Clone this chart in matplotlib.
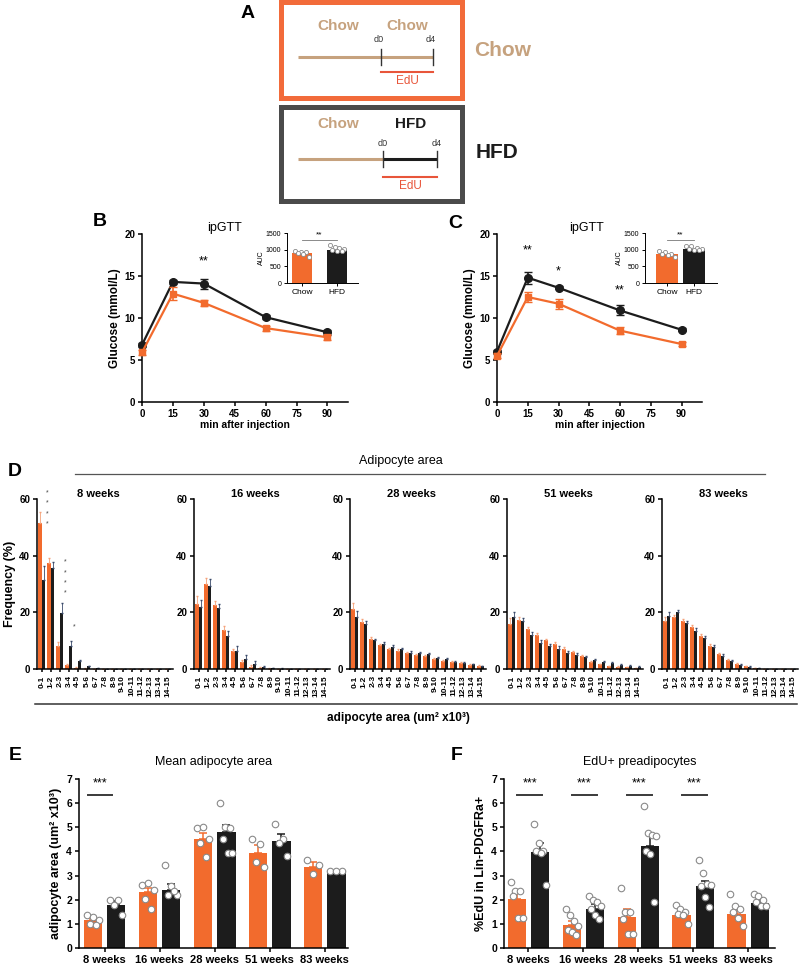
import numpy as np
import matplotlib
matplotlib.use('Agg')
import matplotlib.pyplot as plt
from matplotlib.patches import Rectangle

plt.rcParams['font.family'] = ['Liberation Sans', 'DejaVu Sans']
plt.rcParams['axes.linewidth'] = 1.1
plt.rcParams['xtick.major.width'] = 1.1
plt.rcParams['ytick.major.width'] = 1.1
plt.rcParams['xtick.major.size'] = 3
plt.rcParams['ytick.major.size'] = 3

ORANGE = '#F26B2D'
BLACK = '#1C1C1C'
TAN = '#C6A27E'
GREYBOX = '#4B4B4B'
EDU = '#E8553A'
PTEDGE = '#8A8A8A'

# ---- data: ipGTT (B, C) ----
times = [0, 15, 30, 60, 90]
b_chow = [5.9, 12.9, 11.8, 8.8, 7.7]
b_chow_err = [0.3, 0.8, 0.4, 0.3, 0.3]
b_hfd = [6.8, 14.3, 14.1, 10.1, 8.3]
b_hfd_err = [0.2, 0.2, 0.6, 0.2, 0.3]
b_stars = [(30, 16.7, '**')]
b_auc = [900, 1000]
b_auc_chow_pts = [950, 940, 930, 910, 880, 780]
b_auc_hfd_pts = [1150, 1080, 1060, 1010, 990, 960, 950]

c_chow = [5.5, 12.5, 11.7, 8.5, 6.9]
c_chow_err = [0.3, 0.6, 0.6, 0.4, 0.2]
c_hfd = [6.0, 14.8, 13.6, 10.9, 8.6]
c_hfd_err = [0.2, 0.7, 0.2, 0.6, 0.2]
c_stars = [(15, 18.1, '**'), (30, 15.6, '*'), (60, 13.3, '**')]
c_auc = [860, 1020]
c_auc_chow_pts = [950, 920, 880, 860, 830, 780]
c_auc_hfd_pts = [1100, 1100, 1040, 1020, 1010, 1000, 980]

# ---- data: adipocyte area distribution (D) ----
bins = ['0-1', '1-2', '2-3', '3-4', '4-5', '5-6', '6-7', '7-8', '8-9',
        '9-10', '10-11', '11-12', '12-13', '13-14', '14-15']
ages = ['8 weeks', '16 weeks', '28 weeks', '51 weeks', '83 weeks']
d_chow = [
    [51.5, 37.3, 8.2, 1.5, 0.4, 0.1, 0.05, 0, 0, 0, 0, 0, 0, 0, 0],
    [22.8, 30.0, 22.6, 13.6, 6.2, 2.4, 0.8, 0.35, 0.1, 0.05, 0, 0, 0, 0, 0],
    [21.2, 16.5, 10.7, 8.4, 7.0, 6.4, 5.7, 4.9, 4.5, 3.7, 2.9, 2.6, 2.0, 1.5, 1.2],
    [16.0, 17.3, 14.2, 11.9, 10.1, 9.0, 7.2, 6.0, 4.5, 2.6, 1.6, 1.0, 0.8, 0.6, 0.4],
    [16.8, 18.2, 16.8, 14.9, 11.8, 8.2, 5.3, 3.2, 1.8, 0.9, 0.3, 0.1, 0.05, 0, 0],
]
d_chow_err = [
    [4.0, 2.0, 1.5, 0.4, 0.2, 0.1, 0, 0, 0, 0, 0, 0, 0, 0, 0],
    [3.0, 2.0, 1.5, 1.5, 1.0, 0.7, 0.5, 0.3, 0.1, 0, 0, 0, 0, 0, 0],
    [2.0, 1.0, 0.5, 0.5, 0.5, 0.5, 0.4, 0.4, 0.4, 0.3, 0.3, 0.3, 0.3, 0.2, 0.2],
    [2.0, 1.0, 0.8, 0.8, 0.6, 0.6, 0.5, 0.5, 0.4, 0.4, 0.3, 0.2, 0.2, 0.2, 0.1],
    [1.5, 1.0, 0.8, 0.8, 0.6, 0.6, 0.5, 0.4, 0.3, 0.2, 0.1, 0.05, 0, 0, 0],
]
d_hfd = [
    [31.3, 35.6, 19.7, 8.0, 2.7, 0.9, 0.4, 0.1, 0, 0, 0, 0, 0, 0, 0],
    [21.8, 29.4, 21.5, 11.8, 6.5, 3.5, 1.8, 0.8, 0.3, 0.1, 0, 0, 0, 0, 0],
    [18.5, 15.9, 10.1, 9.0, 7.8, 6.9, 5.7, 5.5, 5.2, 4.0, 3.4, 2.6, 2.0, 1.6, 1.0],
    [18.5, 16.9, 12.1, 9.2, 8.0, 7.2, 5.8, 4.9, 4.1, 3.1, 2.6, 2.0, 1.4, 1.2, 0.8],
    [18.8, 20.0, 16.1, 13.5, 10.9, 7.9, 4.7, 2.9, 1.4, 0.8, 0.3, 0.1, 0.05, 0, 0],
]
d_hfd_err = [
    [5.0, 2.0, 3.5, 1.8, 0.5, 0.3, 0.1, 0, 0, 0, 0, 0, 0, 0, 0],
    [2.5, 2.5, 1.5, 1.5, 1.5, 1.5, 1.0, 0.4, 0.2, 0.1, 0, 0, 0, 0, 0],
    [2.0, 1.0, 0.6, 0.6, 0.6, 0.6, 0.5, 0.5, 0.5, 0.4, 0.4, 0.3, 0.3, 0.3, 0.2],
    [1.5, 1.0, 1.0, 1.0, 0.8, 0.8, 0.6, 0.6, 0.5, 0.5, 0.4, 0.4, 0.3, 0.3, 0.2],
    [1.2, 1.0, 0.8, 0.8, 0.6, 0.6, 0.5, 0.4, 0.3, 0.2, 0.1, 0.05, 0, 0, 0],
]
d_sig_bins = [0, 2, 3]
d_sig_base = [50, 25.5, 13.5]
d_sig_n = [4, 4, 1]

# ---- data: mean adipocyte area (E) ----
weeks = ['8 weeks', '16 weeks', '28 weeks', '51 weeks', '83 weeks']
e_chow = [1.15, 2.3, 4.5, 3.95, 3.35]
e_chow_err = [0.1, 0.2, 0.25, 0.3, 0.2]
e_hfd = [1.78, 2.42, 4.8, 4.45, 3.18]
e_hfd_err = [0.15, 0.22, 0.3, 0.28, 0.03]
e_chow_pts = [[1.35, 1.3, 1.15, 1.0, 0.95], [2.6, 2.7, 2.4, 2.05, 1.6],
              [4.95, 5.0, 4.5, 4.35, 3.75], [4.5, 4.3, 3.55, 3.35],
              [3.65, 3.45, 3.05]]
e_hfd_pts = [[2.0, 2.0, 1.8, 1.35], [3.45, 2.55, 2.2, 2.2, 2.35],
             [6.0, 5.0, 4.95, 4.5, 3.95, 3.95], [5.15, 4.5, 4.35, 3.8],
             [3.2, 3.2, 3.2]]
e_sig = [0]

# ---- data: EdU+ preadipocytes (F) ----
f_chow = [2.02, 0.97, 1.3, 1.38, 1.42]
f_chow_err = [0.25, 0.15, 0.3, 0.12, 0.2]
f_hfd = [3.98, 1.62, 4.22, 2.56, 1.88]
f_hfd_err = [0.35, 0.2, 0.5, 0.2, 0.15]
f_chow_pts = [[2.75, 2.35, 2.35, 2.15, 1.25, 1.25],
              [1.6, 1.35, 1.1, 0.9, 0.75, 0.65, 0.55],
              [2.5, 1.5, 1.5, 1.2, 0.6, 0.6],
              [1.8, 1.6, 1.5, 1.4, 1.35, 1.0],
              [2.25, 1.75, 1.6, 1.5, 1.25, 0.9]]
f_hfd_pts = [[5.15, 4.35, 4.0, 4.0, 3.95, 2.6],
             [2.15, 2.0, 1.9, 1.75, 1.6, 1.35, 1.2],
             [5.9, 4.75, 4.7, 4.65, 4.0, 3.9, 1.9],
             [3.65, 3.1, 2.65, 2.6, 2.55, 2.1, 1.7],
             [2.25, 2.15, 2.0, 1.9, 1.75, 1.75]]
f_sig = [0, 1, 2, 3]

W, H = 800, 967
fig = plt.figure(figsize=(8, 9.67), dpi=100)


def px_axes(x0, x1, y0, y1):
    return fig.add_axes([x0 / W, 1 - y1 / H, (x1 - x0) / W, (y1 - y0) / H])


def clean(ax, fs=7, bold=True):
    ax.spines['top'].set_visible(False)
    ax.spines['right'].set_visible(False)
    ax.tick_params(labelsize=fs, pad=2)
    if bold:
        for t in ax.get_xticklabels() + ax.get_yticklabels():
            t.set_fontweight('bold')


def spread(n, w):
    # horizontal offsets for dots, interleaved so they don't line up diagonally
    if n == 1:
        return np.zeros(1)
    base = np.linspace(-w, w, n)
    order = np.concatenate([np.arange(0, n, 2), np.arange(1, n, 2)])
    return base[order]


# ---- B, C ----
def gtt(ax, ins, chow, chow_err, hfd, hfd_err, stars, auc, pc, ph, pos, bw, xl):
    ax.errorbar(times, hfd, yerr=hfd_err, color=BLACK, marker='o', ms=5.5,
                lw=1.6, capsize=3, elinewidth=1.2, clip_on=False, zorder=3)
    ax.errorbar(times, chow, yerr=chow_err, color=ORANGE, marker='s', ms=5,
                lw=1.6, capsize=3, elinewidth=1.2, clip_on=False, zorder=4)
    ax.set_xlim(0, 100)
    ax.set_ylim(0, 20)
    ax.set_xticks(times[:1] + [15, 30, 45, 60, 75, 90])
    ax.set_yticks([0, 5, 10, 15, 20])
    ax.set_xlabel('min after injection', fontsize=7.5, fontweight='bold', labelpad=1)
    ax.set_ylabel('Glucose (mmol/L)', fontsize=8.5, fontweight='bold', labelpad=2)
    clean(ax)
    for x, y, s in stars:
        ax.text(x, y, s, ha='center', va='center', fontsize=9)

    ins.bar(pos, auc, bw, color=[ORANGE, BLACK])
    for p, pts in zip(pos, [pc, ph]):
        ins.scatter(p + spread(len(pts), bw * 0.35), pts, s=9, facecolor='white',
                    edgecolor=PTEDGE, linewidth=0.6, zorder=3, clip_on=False)
    ins.plot([pos[0], pos[1]], [1300, 1300], color='#777777', lw=0.6)
    ins.text(np.mean(pos), 1330, '**', ha='center', va='bottom', fontsize=6)
    ins.set_xlim(*xl)
    ins.set_ylim(0, 1500)
    ins.set_yticks([0, 500, 1000, 1500])
    ins.set_xticks(pos)
    ins.set_xticklabels(['Chow', 'HFD'])
    ins.set_ylabel('AUC', fontsize=5, labelpad=1)
    for s in ['left', 'bottom']:
        ins.spines[s].set_linewidth(0.7)
    ins.tick_params(width=0.7, length=2)
    clean(ins, fs=5, bold=False)
    ins.tick_params(axis='x', labelsize=6)


axB = px_axes(142, 348, 234, 402)
inB = px_axes(287, 358, 233, 283)
gtt(axB, inB, b_chow, b_chow_err, b_hfd, b_hfd_err, b_stars, b_auc,
    b_auc_chow_pts, b_auc_hfd_pts, np.array([0, 1]), 0.57, (-0.43, 1.6))
axC = px_axes(497, 702, 234, 402)
inC = px_axes(645, 717, 233, 283)
gtt(axC, inC, c_chow, c_chow_err, c_hfd, c_hfd_err, c_stars, c_auc,
    c_auc_chow_pts, c_auc_hfd_pts, np.array([0, 1]), 0.8, (-0.81, 1.85))
fig.text(225 / W, 1 - 228 / H, 'ipGTT', ha='center', va='center', fontsize=9)
fig.text(587 / W, 1 - 228 / H, 'ipGTT', ha='center', va='center', fontsize=9)

# ---- D ----
idx = np.arange(len(bins))
d_left = [37, 194, 350, 507, 662]
for k in range(len(ages)):
    ax = px_axes(d_left[k], d_left[k] + 136, 499, 669)
    ax.bar(idx - 0.2, d_chow[k], 0.38, color=ORANGE)
    ax.bar(idx + 0.2, d_hfd[k], 0.38, color=BLACK)
    ax.errorbar(idx - 0.2, d_chow[k], yerr=[np.zeros(len(bins)), d_chow_err[k]],
                fmt='none', ecolor='#F5A27A', elinewidth=0.6, capsize=1)
    ax.errorbar(idx + 0.2, d_hfd[k], yerr=[np.zeros(len(bins)), d_hfd_err[k]],
                fmt='none', ecolor='#3A4A6A', elinewidth=0.6, capsize=1)
    ax.set_xlim(-0.55, 14.6)
    ax.set_ylim(0, 60)
    ax.set_yticks([0, 20, 40, 60])
    ax.set_xticks(idx)
    ax.set_xticklabels(bins, rotation=90)
    clean(ax)
    ax.tick_params(axis='x', labelsize=6, length=2.5)
    ax.set_title(ages[k], fontsize=8, fontweight='bold', x=0.45, y=0.98, va='center')
    if k == 0:
        ax.set_ylabel('Frequency (%)', fontsize=9, fontweight='bold', labelpad=2)
        for b, base, n in zip(d_sig_bins, d_sig_base, d_sig_n):
            for j in range(n):
                ax.annotate('*', xy=(b + 0.55, base), xytext=(0, j * 7.5),
                            textcoords='offset points', ha='center', va='bottom',
                            fontsize=5, color='#444444')


# ---- E, F ----
def group_bars(ax, chow, chow_err, hfd, hfd_err, pc, ph, sig, sx, ylab):
    x = np.arange(len(weeks))
    off, bw = 0.21, 0.33
    for sign, vals, errs, pts, col in [(-1, chow, chow_err, pc, ORANGE),
                                       (1, hfd, hfd_err, ph, BLACK)]:
        xs = x + sign * off
        ax.bar(xs, vals, bw, color=col, zorder=1)
        ax.errorbar(xs, vals, yerr=[np.zeros(len(vals)), errs], fmt='none',
                    ecolor=col, elinewidth=1.1, capsize=3, capthick=1.1, zorder=2)
        for xi, p in zip(xs, pts):
            ax.scatter(xi + spread(len(p), 0.11), p, s=22, facecolor='white',
                       edgecolor=PTEDGE, linewidth=0.8, zorder=3, clip_on=False)
    for i in sig:
        ax.plot([i + sx[0], i + sx[1]], [6.35, 6.35], color='#3A3A3A', lw=1.4)
        ax.text(i + (sx[0] + sx[1]) / 2, 6.55, '***', ha='center', va='bottom',
                fontsize=9)
    ax.set_ylim(0, 7)
    ax.set_yticks(range(8))
    ax.set_xticks(x)
    ax.set_xticklabels(weeks)
    ax.set_ylabel(ylab, fontsize=9, fontweight='bold', labelpad=3)
    clean(ax, fs=7.5)
    ax.tick_params(axis='x', labelsize=8)


axE = px_axes(79, 348, 779, 948)
group_bars(axE, e_chow, e_chow_err, e_hfd, e_hfd_err, e_chow_pts, e_hfd_pts,
           e_sig, (-0.31, 0.13), 'adipocyte area (um² x10³)')
axE.set_xlim(-0.47, 4.42)
axE.set_title('Mean adipocyte area', fontsize=9, pad=10)

axF = px_axes(504, 775, 779, 948)
group_bars(axF, f_chow, f_chow_err, f_hfd, f_hfd_err, f_chow_pts, f_hfd_pts,
           f_sig, (-0.2, 0.25), '%EdU in Lin-PDGFRa+')
axF.set_xlim(-0.44, 4.49)
axF.set_title('EdU+ preadipocytes', fontsize=9, pad=10)

# ---- overlay: panel A, panel letters, D frame lines ----
ov = fig.add_axes([0, 0, 1, 1], facecolor='none')
ov.set_xlim(0, W)
ov.set_ylim(H, 0)
ov.axis('off')

ov.add_patch(Rectangle((280.5, 2), 181, 95.5, fill=False, ec='#F26B3A', lw=3.6))
ov.add_patch(Rectangle((280.5, 106.5), 181, 94, fill=False, ec=GREYBOX, lw=3.6))

# chow box
ov.text(338, 26, 'Chow', color=TAN, fontsize=11, fontweight='bold', ha='center', va='center')
ov.text(407, 26, 'Chow', color=TAN, fontsize=11, fontweight='bold', ha='center', va='center')
ov.plot([298, 433], [57, 57], color=TAN, lw=2.2, solid_capstyle='butt')
for xx, lab in [(381, 'd0'), (433, 'd4')]:
    ov.plot([xx, xx], [49, 65], color='#333333', lw=1)
    ov.text(xx - 2, 40, lab, fontsize=6.5, ha='center', va='center', color='#333333')
ov.plot([381, 433], [72, 72], color=EDU, lw=1.5)
ov.text(407, 81, 'EdU', color=EDU, fontsize=8.5, ha='center', va='center')

# hfd box
ov.text(338, 124, 'Chow', color=TAN, fontsize=11, fontweight='bold', ha='center', va='center')
ov.text(411, 124, 'HFD', color=BLACK, fontsize=11, fontweight='bold', ha='center', va='center')
ov.plot([298, 383], [159, 159], color=TAN, lw=2.2, solid_capstyle='butt')
ov.plot([383, 437], [159, 159], color=BLACK, lw=2.2, solid_capstyle='butt')
for xx, lab in [(383, 'd0'), (437, 'd4')]:
    ov.plot([xx, xx], [151, 167], color='#333333', lw=1)
    ov.text(xx, 143, lab, fontsize=6.5, ha='center', va='center', color='#333333')
ov.plot([383, 437], [177, 177], color=EDU, lw=1.5)
ov.text(410, 186, 'EdU', color=EDU, fontsize=8.5, ha='center', va='center')

ov.text(503, 50, 'Chow', color=TAN, fontsize=15, fontweight='bold', ha='center', va='center')
ov.text(497, 153, 'HFD', color=BLACK, fontsize=15, fontweight='bold', ha='center', va='center')

for lab, xx, yy in [('A', 248, 14), ('B', 100, 222), ('C', 455, 223),
                    ('D', 15, 472), ('E', 15, 755), ('F', 457, 755)]:
    ov.text(xx, yy, lab, fontsize=14, fontweight='bold', ha='center', va='center')

ov.plot([75, 765], [474, 474], color='#555555', lw=0.9)
ov.text(401, 461, 'Adipocyte area', fontsize=9, ha='center', va='center')
ov.plot([35, 797], [704, 704], color='#333333', lw=1.1)
ov.text(398, 718, 'adipocyte area (um² x10³)', fontsize=8.5, fontweight='bold',
        ha='center', va='center')

fig.savefig('out.png', dpi=100)
